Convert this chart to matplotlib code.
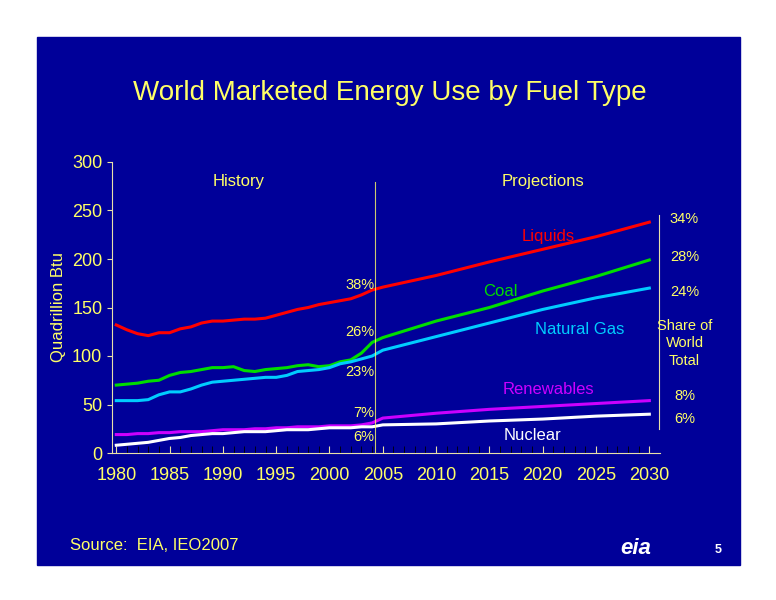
import matplotlib
matplotlib.use("Agg")
import matplotlib.pyplot as plt
from matplotlib.patches import Rectangle

plt.rcParams["font.family"] = ["Liberation Sans", "DejaVu Sans"]

hist_years = list(range(1980, 2005))
proj_years = [2004, 2005, 2010, 2015, 2020, 2025, 2030]

liquids_hist = [132, 127, 123, 121, 124, 124, 128, 130, 134, 136, 136, 137, 138, 138, 139,
                142, 145, 148, 150, 153, 155, 157, 159, 163, 168]
coal_hist = [70, 71, 72, 74, 75, 80, 83, 84, 86, 88, 88, 89, 85, 84, 86, 87, 88, 90, 91,
             89, 90, 94, 96, 103, 114]
gas_hist = [54, 54, 54, 55, 60, 63, 63, 66, 70, 73, 74, 75, 76, 77, 78, 78, 80, 84, 85,
            86, 88, 92, 94, 97, 100]
renew_hist = [19, 19, 20, 20, 21, 21, 22, 22, 22, 23, 24, 24, 24, 25, 25, 26, 26, 27, 27,
              27, 28, 28, 28, 29, 31]
nuclear_hist = [8, 9, 10, 11, 13, 15, 16, 18, 19, 20, 20, 21, 22, 22, 22, 23, 24, 24, 24,
                25, 26, 26, 26, 27, 27]

liquids_proj = [168, 171, 183, 197, 210, 223, 238]
coal_proj = [114, 119, 136, 150, 167, 182, 199]
gas_proj = [100, 106, 120, 134, 148, 160, 170]
renew_proj = [31, 36, 41, 45, 48, 51, 54]
nuclear_proj = [27, 29, 30, 33, 35, 38, 40]

share_2004 = ["38%", "26%", "23%", "7%", "6%"]
share_2030 = ["34%", "28%", "24%", "8%", "6%"]

NAVY = "#000099"
YEL = "#ffff66"
AXC = "#e8e0a8"

fig = plt.figure(figsize=(7.76, 6), dpi=100)
fig.patch.set_facecolor("white")
fig.patches.append(Rectangle((37 / 776, 1 - 565 / 600), 703 / 776, 528 / 600,
                             transform=fig.transFigure, color=NAVY, zorder=-1))

ax = fig.add_axes([112 / 776, 1 - 453 / 600, 548 / 776, 291 / 600])
ax.patch.set_alpha(0)

series = [
    (liquids_hist, liquids_proj, "#ff0000"),
    (coal_hist, coal_proj, "#00dd00"),
    (gas_hist, gas_proj, "#00ccff"),
    (renew_hist, renew_proj, "#cc00ff"),
    (nuclear_hist, nuclear_proj, "white"),
]
for h, p, c in series:
    ax.plot(hist_years + proj_years[1:], h + p[1:], color=c, lw=2.2)

ax.axvline(2004.3, color=YEL, lw=0.8, ymax=0.93, alpha=0.8)
ax.set_xlim(1979.6, 2031)
ax.set_ylim(0, 300)
ax.set_xticks(range(1980, 2031, 5))
ax.set_xticks(range(1980, 2031), minor=True)
ax.set_yticks(range(0, 301, 50))
for s in ["top", "right"]:
    ax.spines[s].set_visible(False)
for s in ["left", "bottom"]:
    ax.spines[s].set_color(AXC)
ax.tick_params(colors=AXC, labelcolor=YEL, labelsize=13, direction="out")
ax.tick_params(axis="x", which="both", direction="in", length=5, pad=10)
ax.set_ylabel("Quadrillion Btu", color=YEL, fontsize=12)

fs = 12
ax.text(1991.5, 280, "History", color=YEL, fontsize=fs, ha="center", va="center")
ax.text(2020, 280, "Projections", color=YEL, fontsize=fs, ha="center", va="center")
ax.text(2020.5, 223, "Liquids", color="#ff0000", fontsize=fs, ha="center", va="center")
ax.text(2016, 166, "Coal", color="#00dd00", fontsize=fs, ha="center", va="center")
ax.text(2023.5, 127, "Natural Gas", color="#00ccff", fontsize=fs, ha="center", va="center")
ax.text(2020.5, 65, "Renewables", color="#cc00ff", fontsize=fs, ha="center", va="center")
ax.text(2019, 18, "Nuclear", color="white", fontsize=fs, ha="center", va="center")

for y, t in zip([173, 125, 84, 41, 17], share_2004):
    ax.text(2004.2, y, t, color=YEL, fontsize=10.5, ha="right", va="center")
for y, t in zip([241, 202, 166, 59, 35], share_2030):
    ax.text(2033.3, y, t, color=YEL, fontsize=10.5, ha="center", va="center", clip_on=False)
ax.text(2033.3, 113, "Share of\nWorld\nTotal", color=YEL, fontsize=10.5, ha="center",
        va="center", linespacing=1.3, clip_on=False)
ax.plot([2030.9, 2030.9], [25, 245], color=AXC, lw=0.8, clip_on=False)

fig.text(390 / 776, 1 - 93 / 600, "World Marketed Energy Use by Fuel Type", color=YEL,
         fontsize=20, ha="center", va="center")
fig.text(70 / 776, 1 - 546 / 600, "Source:  EIA, IEO2007", color=YEL, fontsize=12,
         va="center")
fig.text(636 / 776, 1 - 549 / 600, "eia", color="white", fontsize=16, style="italic",
         weight="bold", ha="center", va="center")
fig.text(718 / 776, 1 - 550 / 600, "5", color="white", fontsize=9, weight="bold",
         ha="center", va="center")

fig.savefig("out.png", dpi=100, facecolor="white")
